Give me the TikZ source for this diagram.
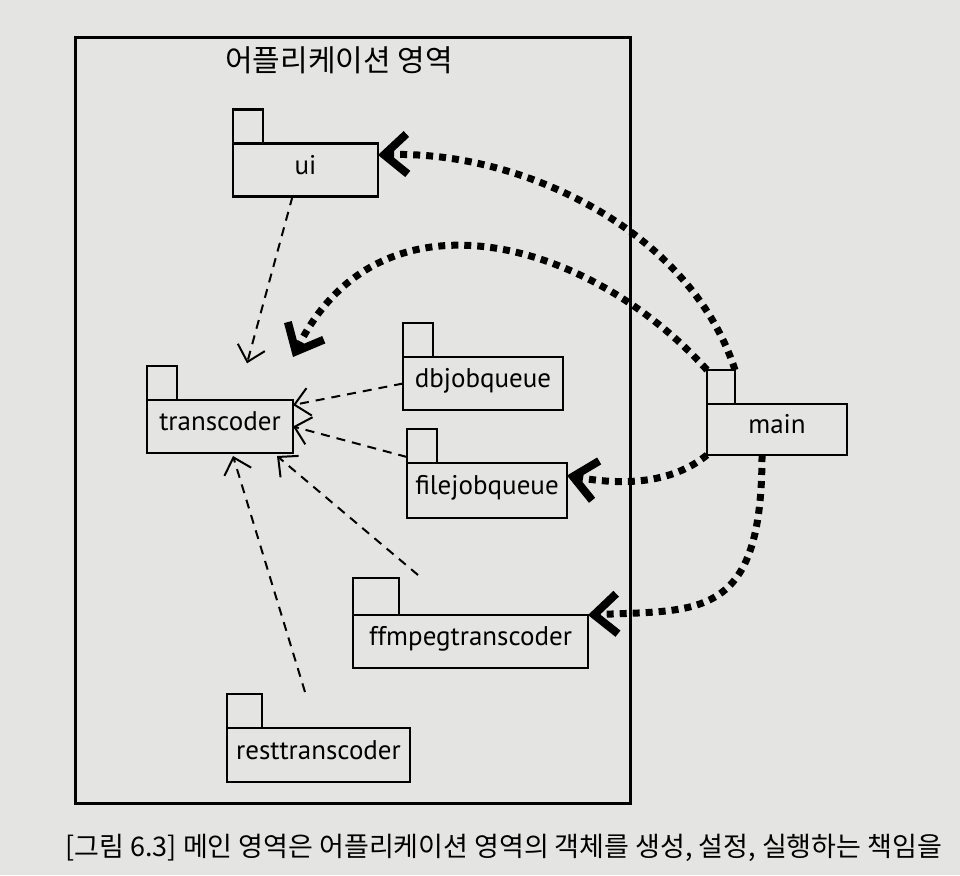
\documentclass[tikz,border=0pt]{standalone}
\usepackage{fontspec}
\setmainfont{PT Sans}
\newfontfamily\krfont{Noto Sans CJK KR}
\usetikzlibrary{positioning,arrows.meta}
\definecolor{paper}{RGB}{228,228,226}

\begin{document}
\begin{tikzpicture}[x=1pt,y=-1pt,
    pkg/.style={draw,line width=2.2pt,outer sep=0pt,inner sep=0pt,minimum height=53pt,
      text height=19pt,text depth=11pt,font=\fontsize{27}{32}\selectfont},
    pkgtab/.style={draw,line width=2.2pt,outer sep=0pt,inner sep=0pt,minimum width=30pt,minimum height=34pt},
    dep/.style={line width=2pt,dash pattern=on 9pt off 7pt,-{Straight Barb[length=15pt,width=28pt]}},
    inject/.style={draw,line width=7pt,dash pattern=on 7pt off 6pt,
      -{Straight Barb[length=23pt,width=40pt,line width=8pt]}}]
  \fill[paper] (0,0) rectangle (960,875);
  \useasboundingbox (0,0) rectangle (960,875);

  % application area
  \draw[line width=3pt] (75,38) rectangle (630,803);
  \node[font=\krfont\fontsize{30}{34}\selectfont] (apptitle) at (339,60) {어플리케이션 영역};

  % packages
  \node[pkg,minimum width=145pt] (ui) at (305.5,170) {ui};
  \node[pkgtab,above right=0pt and 0pt of ui.north west] (ui-tab) {};
  \node[pkg,minimum width=146pt] (transcoder) at (220,426.5) {transcoder};
  \node[pkgtab,above right=0pt and 0pt of transcoder.north west] (transcoder-tab) {};
  \node[pkg,minimum width=160pt] (dbjobqueue) at (483,383.5) {dbjobqueue};
  \node[pkgtab,above right=0pt and 0pt of dbjobqueue.north west] (dbjobqueue-tab) {};
  \node[pkg,minimum width=160pt,minimum height=55pt] (filejobqueue) at (487,490.5) {filejobqueue};
  \node[pkgtab,above right=0pt and 0pt of filejobqueue.north west] (filejobqueue-tab) {};
  \node[pkg,minimum width=235pt] (ffmpegtranscoder) at (470.5,641.5) {ffmpegtranscoder};
  \node[pkgtab,minimum width=46pt,minimum height=37pt,above right=0pt and 0pt of ffmpegtranscoder.north west] (ffmpegtranscoder-tab) {};
  \node[pkg,minimum width=183pt,minimum height=54pt] (resttranscoder) at (318.5,755) {resttranscoder};
  \node[pkgtab,minimum width=35pt,above right=0pt and 0pt of resttranscoder.north west] (resttranscoder-tab) {};

  % main area
  \node[pkg,minimum width=140pt,minimum height=51pt] (main) at (777,429.5) {main};
  \node[pkgtab,minimum width=28pt,above right=0pt and 0pt of main.north west] (main-tab) {};

  % dependencies inside the application area
  \path[dep]
  ([xshift=-13pt]ui.south) edge[shorten >=38pt] ([xshift=17pt]transcoder.north)
  (dbjobqueue.west) edge ([yshift=-5pt]transcoder.north east)
  ([yshift=6pt]filejobqueue.north west) edge (transcoder.east)
  ([shift={(65pt,40pt)}]ffmpegtranscoder.north west) edge ([xshift=57pt,yshift=-3pt]transcoder.south)
  ([shift={(78pt,36pt)}]resttranscoder.north west) edge ([xshift=13pt,yshift=-3pt]transcoder.south)
  ;

  % main creates and wires the objects
  \draw[inject] (main-tab.north east) .. controls (690,230) and (520,150) .. ([yshift=15pt]ui.east);
  \draw[inject] (main-tab.north west) .. controls (590,240) and (380,180) .. ([yshift=43pt]transcoder.north east);
  \draw[inject] (main.south west) .. controls (670,485) and (620,485) .. ([yshift=15pt]filejobqueue.east);
  \draw[inject] ([xshift=-15pt]main.south) .. controls (762,620) and (700,610) .. (ffmpegtranscoder.north east);

  \node[anchor=west,font=\krfont\fontsize{27}{32}\selectfont] (caption) at (62,848)
    {[그림 6.3] 메인 영역은 어플리케이션 영역의 객체를 생성, 설정, 실행하는 책임을};
\end{tikzpicture}
\end{document}
